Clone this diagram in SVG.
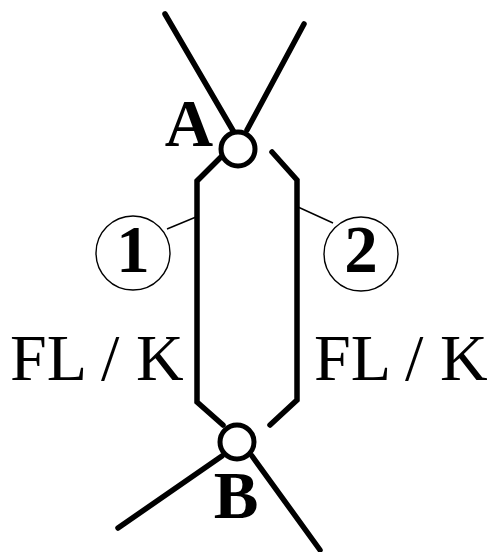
<svg xmlns="http://www.w3.org/2000/svg" width="496" height="552" viewBox="0 0 496 552">
<style>
.thick{fill:none;stroke:#000;stroke-width:5.5;stroke-linecap:round;stroke-linejoin:miter}
.thin{fill:none;stroke:#000;stroke-width:1.4}
.node{fill:#fff;stroke:#000;stroke-width:5}
.lbl{font-family:"Liberation Serif","Times New Roman",serif;font-weight:bold;font-size:67px;fill:#000}
.fl{font-family:"Liberation Serif","Times New Roman",serif;font-size:66px;fill:#000}
</style>
<rect width="496" height="552" fill="#fff"/>
<g id="connectors">
<line class="thick" x1="165" y1="14" x2="235" y2="134"/>
<line class="thick" x1="304" y1="24" x2="247" y2="130"/>
<polyline class="thick" points="223,155 197,181 197,402 223,425"/>
<polyline class="thick" points="272,152 297,180 297,400 270,425"/>
<line class="thick" x1="222" y1="456" x2="118" y2="528"/>
<line class="thick" x1="252" y1="456" x2="320" y2="550"/>
<line class="thin" x1="167" y1="229" x2="196" y2="217"/>
<line class="thin" x1="333" y1="223" x2="298" y2="207"/>
</g>
<g id="nodeA">
<circle class="node" cx="238" cy="149" r="17"/>
<text class="lbl" x="189" y="146" text-anchor="middle">A</text>
</g>
<g id="nodeB">
<circle class="node" cx="237" cy="442" r="17"/>
<text class="lbl" x="236" y="518" text-anchor="middle">B</text>
</g>
<g id="label1">
<circle class="thin" cx="133" cy="253" r="37" fill="none"/>
<text class="lbl" x="133" y="272" text-anchor="middle" font-size="69">1</text>
</g>
<g id="label2">
<circle class="thin" cx="361" cy="254" r="37" fill="none"/>
<text class="lbl" x="361" y="272" text-anchor="middle" font-size="69">2</text>
</g>
<g id="flk1"><text class="fl" x="10" y="380">FL / K</text></g>
<g id="flk2"><text class="fl" x="314" y="380">FL / K</text></g>
</svg>
